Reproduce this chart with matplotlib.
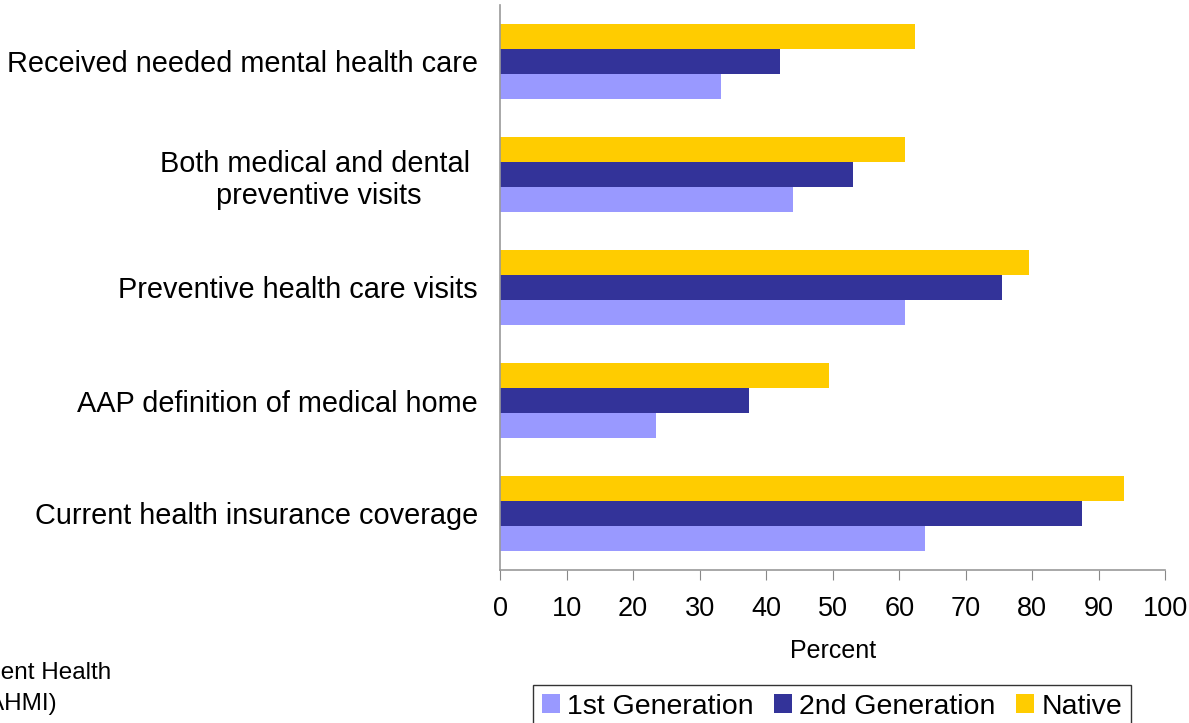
import numpy as np
import matplotlib.pyplot as plt

plt.rcParams['font.family'] = ['Liberation Sans', 'DejaVu Sans']

# Measures, listed top to bottom
measures = ['Received needed mental health care',
            'Both medical and dental \npreventive visits',
            'Preventive health care visits',
            'AAP definition of medical home',
            'Current health insurance coverage']

first_gen = [33.2, 44.0, 60.9, 23.4, 63.8]
second_gen = [42.1, 53.0, 75.5, 37.4, 87.5]
native = [62.4, 60.9, 79.5, 49.4, 93.8]

series_names = ['1st Generation', '2nd Generation', 'Native']
colors = ['#9999FF', '#333399', '#FFCC00']

fig = plt.figure(figsize=(11.89, 7.23), dpi=100)
ax = fig.add_axes([500 / 1189, 1 - 570 / 723, 665.4 / 1189, 565 / 723])

y = np.arange(len(measures))
h = 0.222

b1 = ax.barh(y + h, first_gen, height=h, color=colors[0], label=series_names[0])
b2 = ax.barh(y, second_gen, height=h, color=colors[1], label=series_names[1])
b3 = ax.barh(y - h, native, height=h, color=colors[2], label=series_names[2])

ax.set_xlim(0, 100)
ax.set_ylim(len(measures) - 0.5, -0.5)
ax.set_xticks(range(0, 101, 10))
ax.set_yticks(y)
ax.set_yticklabels(measures, fontsize=20.8, multialignment='center')
ax.tick_params(axis='y', length=0, pad=16)
ax.tick_params(axis='x', length=7, color='#888888', labelsize=19.5, pad=12)

for side in ['top', 'right']:
    ax.spines[side].set_visible(False)
for side in ['left', 'bottom']:
    ax.spines[side].set_color('#999999')
    ax.spines[side].set_linewidth(1.2)

ax.set_xlabel('Percent', fontsize=18, labelpad=12)

# source note, partly off the left edge
fig.text(111 / 1189, 1 - 673 / 723, 'Data Resource Center for Child and Adolescent Health',
         ha='right', va='center', fontsize=17.5)
fig.text(57 / 1189, 1 - 704 / 723, 'Measurement Initiative (CAHMI)',
         ha='right', va='center', fontsize=17.5)

leg = fig.legend(handles=[b1, b2, b3], loc='upper left', ncol=3,
                 bbox_to_anchor=(533 / 1189, 1 - 685 / 723),
                 fontsize=20.5, frameon=True, fancybox=False,
                 handlelength=0.65, handleheight=0.65, handletextpad=0.25,
                 columnspacing=0.7, borderpad=0.3, borderaxespad=0)
leg.get_frame().set_edgecolor('black')
leg.get_frame().set_linewidth(1)

fig.savefig('out.png', dpi=100)
